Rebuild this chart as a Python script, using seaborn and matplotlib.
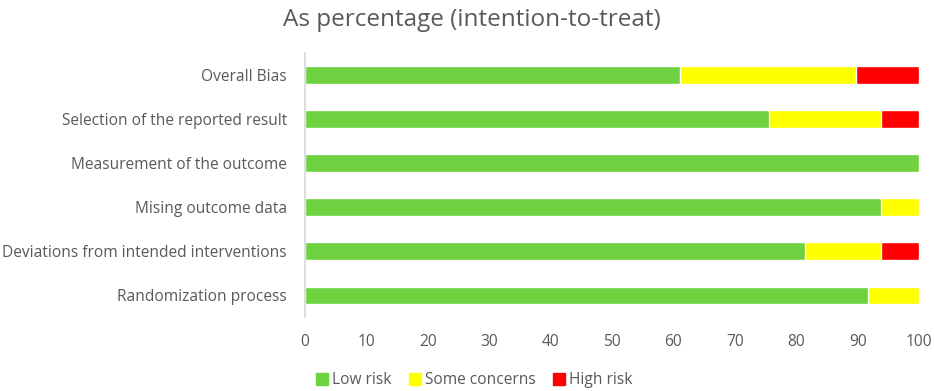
import matplotlib
matplotlib.use('Agg')
import matplotlib.pyplot as plt
from matplotlib.patches import Patch
import seaborn as sns
import pandas as pd
import numpy as np

sns.set_theme(style='white')
plt.rcParams['font.family'] = ['Open Sans', 'DejaVu Sans']

domains = ['Overall Bias', 'Selection of the reported result', 'Measurement of the outcome',
           'Mising outcome data', 'Deviations from intended interventions', 'Randomization process']
low_risk = [61.1, 75.5, 100.0, 93.8, 81.5, 91.7]
some_concerns = [28.7, 18.3, 0.0, 6.2, 12.3, 8.3]
high_risk = [10.2, 6.2, 0.0, 0.0, 6.2, 0.0]

c_low, c_some, c_high = '#6dd140', '#ffff00', '#ff0000'
txt = '#595959'

df = pd.DataFrame({'domain': domains, 'low': low_risk, 'some': some_concerns, 'high': high_risk})
df['cum_some'] = df['low'] + df['some']
df['cum_high'] = df['cum_some'] + df['high']

fig = plt.figure(figsize=(9.34, 3.91), dpi=100)
ax = fig.add_axes([0.3266, 0.189, 0.6574, 0.6755])

# stacked bars by layering cumulative totals
for col, c in [('cum_high', c_high), ('cum_some', c_some), ('low', c_low)]:
    sns.barplot(data=df, x=col, y='domain', order=domains, color=c, width=0.39,
                saturation=1, ax=ax)

ax.set_xlim(0, 100)
ax.set_xticks(range(0, 101, 10))
ax.set_xlabel(''); ax.set_ylabel('')
ax.tick_params(axis='both', length=0, labelsize=11.2, labelcolor=txt)
ax.tick_params(axis='y', pad=13)
ax.tick_params(axis='x', pad=12)
for s in ['top', 'right', 'bottom']:
    ax.spines[s].set_visible(False)
ax.spines['left'].set_color('#d9d9d9')
ax.grid(False)

fig.suptitle('As percentage (intention-to-treat)', fontsize=17.5, color=txt, x=0.505, y=0.98)

handles = [Patch(color=c_low, label='Low risk'), Patch(color=c_some, label='Some concerns'),
           Patch(color=c_high, label='High risk')]
fig.legend(handles=handles, loc='center', bbox_to_anchor=(0.508, 0.027), ncol=3, frameon=False,
           fontsize=11.2, labelcolor=txt, handlelength=0.75, handleheight=0.75, handletextpad=0.3,
           columnspacing=1.1)

plt.savefig('out.png', dpi=100)
plt.close()
